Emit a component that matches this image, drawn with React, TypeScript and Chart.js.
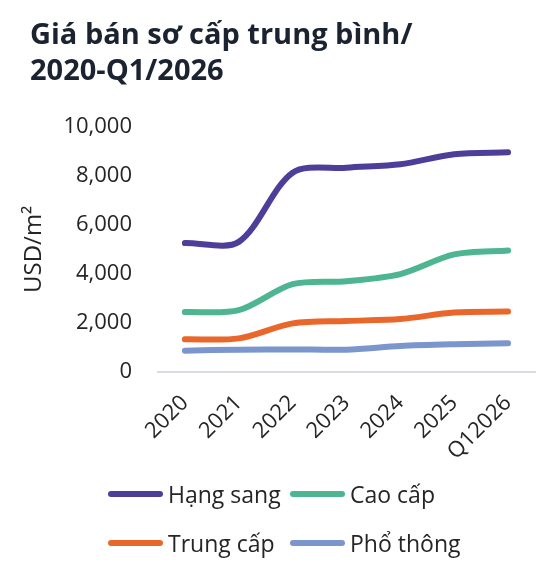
import React, { useEffect, useRef } from "react";
import { Chart, registerables } from "chart.js";

Chart.register(...registerables);

const titleLines = ["Giá bán sơ cấp trung bình/", "2020-Q1/2026"];
const yAxisTitle = "USD/m²";
const categories = ["2020", "2021", "2022", "2023", "2024", "2025", "Q12026"];
const hangSang = [5250, 5300, 8120, 8320, 8460, 8870, 8950];
const caoCap = [2440, 2520, 3580, 3700, 3990, 4790, 4950];
const trungCap = [1330, 1370, 1980, 2080, 2160, 2420, 2460];
const phoThong = [870, 910, 920, 910, 1060, 1130, 1170];
const seriesNames = ["Hạng sang", "Cao cấp", "Trung cấp", "Phổ thông"];
const seriesColors = ["#4d3f99", "#4db590", "#ea672c", "#7b96cd"];
const yMin = 0;
const yMax = 10000;
const yStep = 2000;

const seriesValues = [hangSang, caoCap, trungCap, phoThong];
const FONT = "'Open Sans', 'Noto Sans', sans-serif";
const TEXT = "#252525";

export default function App() {
  const canvasRef = useRef<HTMLCanvasElement | null>(null);

  useEffect(() => {
    const canvas = canvasRef.current;
    if (!canvas) return;
    const chart = new Chart(canvas, {
      type: "line",
      data: {
        labels: categories,
        datasets: seriesNames.map((name, i) => ({
          label: name,
          data: seriesValues[i],
          borderColor: seriesColors[i],
          backgroundColor: seriesColors[i],
          borderWidth: 6,
          borderCapStyle: "round" as const,
          borderJoinStyle: "round" as const,
          pointRadius: 0,
          pointHoverRadius: 0,
          tension: 0.3,
          fill: false,
        })),
      },
      options: {
        responsive: false,
        animation: false,
        devicePixelRatio: 1,
        layout: { padding: { left: 0, right: 16, top: 118.5, bottom: 0 } },
        plugins: {
          legend: { display: false },
          title: { display: false },
          tooltip: { enabled: false },
        },
        scales: {
          x: {
            offset: true,
            grid: { display: false, drawTicks: false },
            border: { display: true, color: "#d9dce2", width: 2 },
            ticks: {
              color: TEXT,
              font: { family: FONT, size: 22 },
              minRotation: 45,
              maxRotation: 45,
              padding: 18,
              autoSkip: false,
            },
            afterFit: (scale: any) => {
              scale.height = 106;
            },
          },
          y: {
            min: yMin,
            max: yMax,
            grid: { display: false, drawTicks: false },
            border: { display: false },
            ticks: {
              stepSize: yStep,
              color: TEXT,
              padding: 26,
              font: { family: FONT, size: 22 },
              callback: (v: any) => Number(v).toLocaleString("en-US"),
            },
            title: {
              display: true,
              text: yAxisTitle,
              color: TEXT,
              font: { family: FONT, size: 24 },
              padding: { top: 12, bottom: 0 },
            },
            afterFit: (scale: any) => {
              scale.width = 150;
            },
          },
        },
      },
    });
    return () => chart.destroy();
  }, []);

  return (
    <div style={{ position: "relative", width: 543, height: 561, fontFamily: FONT }}>
      <canvas ref={canvasRef} width={543} height={470} style={{ position: "absolute", left: 0, top: 0, width: 543, height: 470 }} />
      <div
        style={{
          position: "absolute",
          left: 22,
          top: 7,
          fontSize: 29,
          lineHeight: "36px",
          fontWeight: 700,
          color: "#1b2230",
          whiteSpace: "nowrap",
        }}
      >
        {titleLines.map((t) => (
          <div key={t}>{t}</div>
        ))}
      </div>
      {seriesNames.map((name, i) => {
        const col = i % 2;
        const row = Math.floor(i / 2);
        return (
          <div
            key={name}
            style={{
              position: "absolute",
              left: 100 + col * 182,
              top: 486 + row * 49 - 20,
              height: 40,
              display: "flex",
              alignItems: "center",
              fontSize: 23,
              color: TEXT,
              whiteSpace: "nowrap",
            }}
          >
            <div style={{ width: 55, height: 6, borderRadius: 3, background: seriesColors[i], marginRight: 5 }} />
            <span>{name}</span>
          </div>
        );
      })}
    </div>
  );
}
